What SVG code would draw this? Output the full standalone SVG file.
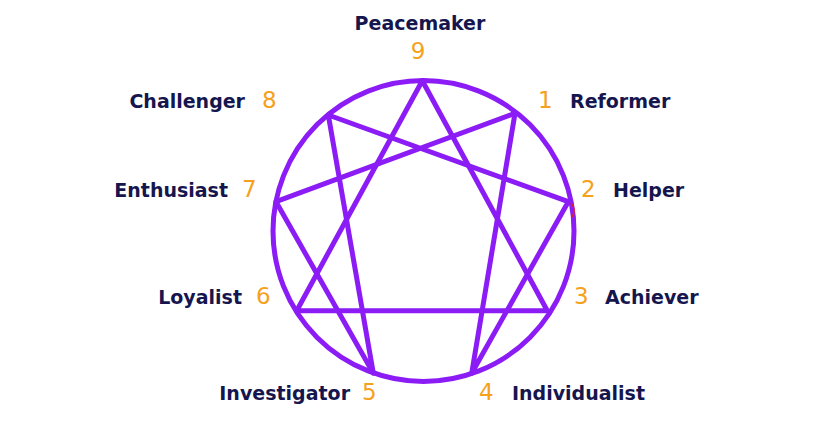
<svg xmlns="http://www.w3.org/2000/svg" width="820" height="430" viewBox="0 0 820 430">
<style>
.lbl{font-family:"DejaVu Sans","Verdana",sans-serif;font-weight:bold;font-size:19px;fill:#16164f}
.num{font-family:"DejaVu Sans","Verdana",sans-serif;font-size:23px;fill:#f5a11c}
.ln{fill:none;stroke:#8b1cf5;stroke-width:5;stroke-linejoin:round;stroke-linecap:round}
</style>
<rect width="820" height="430" fill="#ffffff"/>
<g id="connectors">
<circle class="ln" cx="423.5" cy="231" r="150.5"/>
<polygon class="ln" points="422.3,80.7 547.3,310.7 296.7,310.7"/>
<polygon class="ln" points="515,113.3 471.7,373.3 568.3,201.7 328.3,115 373.3,373.3 276,201.7"/>
<path d="M571,203 Q577,210 572,217" fill="none" stroke="#e0202a" stroke-width="1.5"/>
</g>
<g id="n9"><text class="lbl" x="420" y="30" text-anchor="middle">Peacemaker</text><text class="num" x="418" y="59" text-anchor="middle">9</text></g>
<g id="n1"><text class="num" x="538" y="108">1</text><text class="lbl" x="570" y="108">Reformer</text></g>
<g id="n2"><text class="num" x="581" y="197">2</text><text class="lbl" x="613" y="197">Helper</text></g>
<g id="n3"><text class="num" x="574" y="304">3</text><text class="lbl" x="605" y="304">Achiever</text></g>
<g id="n4"><text class="num" x="479" y="400">4</text><text class="lbl" x="512" y="400">Individualist</text></g>
<g id="n5"><text class="lbl" x="350" y="400" text-anchor="end">Investigator</text><text class="num" x="362" y="400">5</text></g>
<g id="n6"><text class="lbl" x="242" y="304" text-anchor="end">Loyalist</text><text class="num" x="256" y="304">6</text></g>
<g id="n7"><text class="lbl" x="228" y="197" text-anchor="end">Enthusiast</text><text class="num" x="242" y="197">7</text></g>
<g id="n8"><text class="lbl" x="245" y="108" text-anchor="end">Challenger</text><text class="num" x="262" y="108">8</text></g>
</svg>
